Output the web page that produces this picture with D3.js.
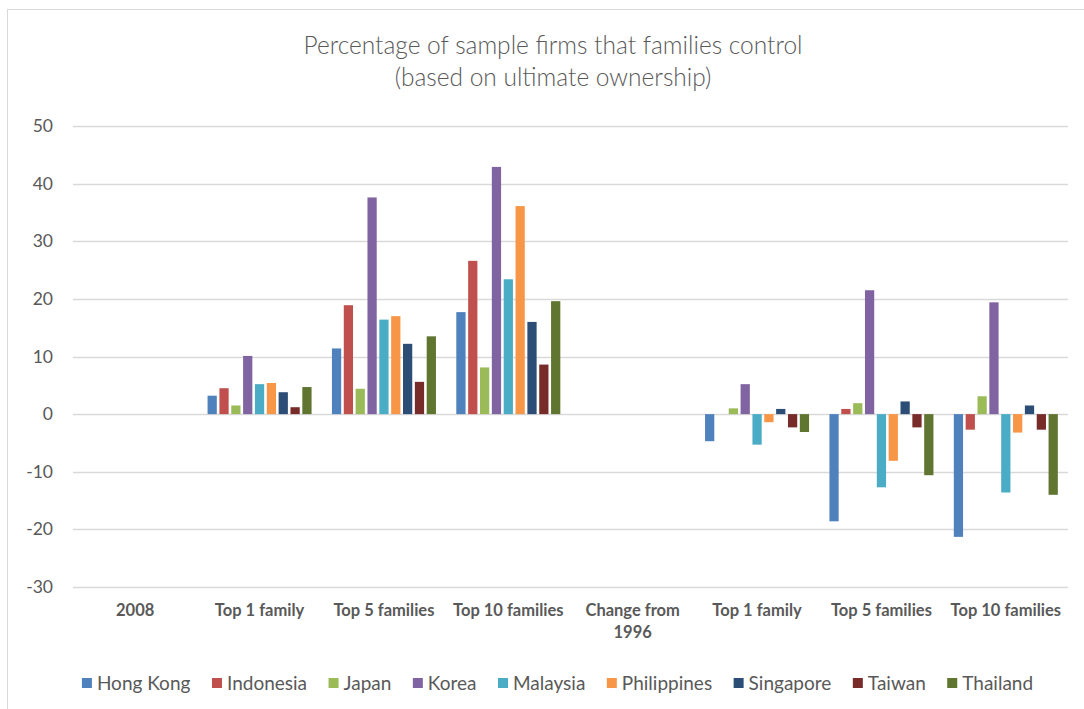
<!DOCTYPE html>
<html>
<head>
<meta charset="utf-8">
<script src="https://cdn.jsdelivr.net/npm/d3@7"></script>
<style>
  html, body { margin: 0; padding: 0; background: #fff; }
  svg { display: block; }
</style>
</head>
<body>
<svg id="chart" width="1084" height="709"></svg>
<script>
const categories = ["2008", "Top 1 family", "Top 5 families", "Top 10 families", "Change from 1996", "Top 1 family ", "Top 5 families ", "Top 10 families "];
const categoryLabels = [["2008"], ["Top 1 family"], ["Top 5 families"], ["Top 10 families"], ["Change from", "1996"], ["Top 1 family"], ["Top 5 families"], ["Top 10 families"]];
const seriesNames = ["Hong Kong", "Indonesia", "Japan", "Korea", "Malaysia", "Philippines", "Singapore", "Taiwan", "Thailand"];
const seriesColors = ["#4F81BD", "#C0504D", "#9BBB59", "#8064A2", "#4BACC6", "#F79646", "#2C4D75", "#772C2A", "#5F7530"];
// values per series, one per category (null = blank)
const hongKong    = [null, 3.2, 11.4, 17.7, null, -4.7, -18.6, -21.3];
const indonesia   = [null, 4.5, 18.9, 26.6, null, 0.0, 0.9, -2.7];
const japan       = [null, 1.5, 4.4, 8.1, null, 1.0, 1.9, 3.1];
const korea       = [null, 10.1, 37.6, 42.9, null, 5.2, 21.5, 19.4];
const malaysia    = [null, 5.2, 16.4, 23.4, null, -5.3, -12.7, -13.6];
const philippines = [null, 5.4, 17.0, 36.1, null, -1.4, -8.1, -3.2];
const singapore   = [null, 3.8, 12.2, 16.0, null, 0.9, 2.2, 1.5];
const taiwan      = [null, 1.2, 5.6, 8.6, null, -2.3, -2.3, -2.7];
const thailand    = [null, 4.7, 13.5, 19.6, null, -3.1, -10.6, -14.0];
const seriesValues = [hongKong, indonesia, japan, korea, malaysia, philippines, singapore, taiwan, thailand];
const yTicks = [-30, -20, -10, 0, 10, 20, 30, 40, 50];
const titleLines = ["Percentage of sample firms that families control", "(based on ultimate ownership)"];

const svg = d3.select("#chart");
const font = "Lato, 'Open Sans', sans-serif";
const textColor = "#595959";

// chart border
svg.append("rect").attr("x", 7.5).attr("y", 9.5).attr("width", 1090).attr("height", 720)
  .attr("fill", "#fff").attr("stroke", "#d9d9d9").attr("stroke-width", 1);

const plot = { left: 73, right: 1068, top: 126, bottom: 587 };

const x0 = d3.scaleBand().domain(categories).range([plot.left, plot.right]).paddingInner(0).paddingOuter(0);
const groupPad = 1.5 / 10.5; // Excel gap width 150%
const x1 = d3.scaleBand().domain(seriesNames)
  .range([x0.bandwidth() * groupPad / 2, x0.bandwidth() * (1 - groupPad / 2)]);
const y = d3.scaleLinear().domain([-30, 50]).range([plot.bottom, plot.top]);

// gridlines
svg.append("g").selectAll("line").data(yTicks).join("line")
  .attr("x1", plot.left).attr("x2", plot.right)
  .attr("y1", d => Math.round(y(d)) + 0.5).attr("y2", d => Math.round(y(d)) + 0.5)
  .attr("stroke", "#d9d9d9").attr("stroke-width", 1.3);

// y axis labels
const yAxis = d3.axisLeft(y).tickValues(yTicks).tickSize(0).tickPadding(0).tickFormat(d => String(d));
const yg = svg.append("g").attr("transform", `translate(${53},0)`).call(yAxis);
yg.select(".domain").remove();
yg.selectAll("text").attr("font-family", font).attr("font-size", 17.5).attr("fill", textColor);

// bars
const groups = svg.append("g").selectAll("g").data(seriesNames).join("g")
  .attr("fill", (d, i) => seriesColors[i]);
groups.each(function(name, si) {
  const vals = seriesValues[si];
  const bw = x1.bandwidth();
  d3.select(this).selectAll("rect")
    .data(categories.map((c, ci) => ({ c, v: vals[ci] })).filter(d => d.v !== null && d.v !== 0))
    .join("rect")
    .attr("x", d => x0(d.c) + x1(name) + 1.3)
    .attr("width", bw - 2.6)
    .attr("y", d => Math.min(y(d.v), y(0)))
    .attr("height", d => Math.abs(y(d.v) - y(0)));
});

// x labels
const xl = svg.append("g").selectAll("text").data(categories).join("text")
  .attr("x", d => x0(d) + x0.bandwidth() / 2)
  .attr("y", 616)
  .attr("text-anchor", "middle")
  .attr("font-family", font).attr("font-size", 16.5).attr("font-weight", 700).attr("fill", textColor);
xl.each(function(d, i) {
  const t = d3.select(this);
  categoryLabels[i].forEach((line, li) => {
    t.append("tspan").attr("x", x0(d) + x0.bandwidth() / 2).attr("dy", li === 0 ? 0 : 22).text(line);
  });
});

// title
svg.append("g").selectAll("text").data(titleLines).join("text")
  .attr("x", 553).attr("y", (d, i) => 54 + i * 32)
  .attr("text-anchor", "middle")
  .attr("font-family", font).attr("font-size", 24.5).attr("font-weight", 300).attr("fill", textColor)
  .text(d => d);

// legend
const legend = svg.append("g");
const items = legend.selectAll("g").data(seriesNames).join("g");
items.append("rect").attr("width", 10).attr("height", 10).attr("y", -5)
  .attr("fill", (d, i) => seriesColors[i]);
items.append("text").attr("x", 15).attr("y", 0).attr("dy", "0.35em")
  .attr("font-family", font).attr("font-size", 19).attr("fill", textColor).text(d => d);
let lx = 0;
const widths = [];
items.each(function() { widths.push(this.getBBox().width); });
const gap = 21.5;
const total = d3.sum(widths) + gap * (widths.length - 1);
let start = 557.5 - total / 2;
items.attr("transform", (d, i) => {
  const tx = start + lx; lx += widths[i] + gap;
  return `translate(${tx},683)`;
});
</script>
</body>
</html>
